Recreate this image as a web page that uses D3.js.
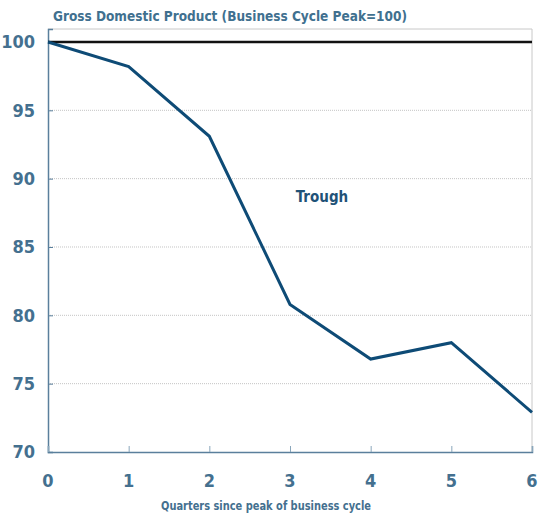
<!DOCTYPE html>
<html>
<head>
<meta charset="utf-8">
<script src="https://cdn.jsdelivr.net/npm/d3@7"></script>
<style>
  body { margin: 0; background: #fff; }
  text { font-family: "DejaVu Sans Condensed", "DejaVu Sans", sans-serif; font-weight: bold; }
</style>
</head>
<body>
<svg width="543" height="516"></svg>
<script>
const quarters = [0, 1, 2, 3, 4, 5, 6];
const gdp = [100, 98.2, 93.1, 80.8, 76.8, 78.0, 72.9];
const yTicks = [70, 75, 80, 85, 90, 95, 100];
const peakLevel = 100;

const labelColor = "#44708f";
const lineColor = "#0e4b76";

const svg = d3.select("svg");
const margin = { left: 48, right: 11, top: 29, bottom: 64 };
const width = 543, height = 516;

const x = d3.scaleLinear().domain([0, 6]).range([margin.left, width - margin.right]);
const y = d3.scaleLinear().domain([70, 100.95]).range([height - margin.bottom, margin.top]);

// frame (top + right)
svg.append("path")
    .attr("d", `M${x(0)},${y.range()[1]}H${x(6)}V${y(70)}`)
    .attr("fill", "none")
    .attr("stroke", "#c8c8c8")
    .attr("stroke-width", 1);

// gridlines
svg.append("g")
    .selectAll("line")
    .data(yTicks.filter(d => d > 70 && d < 100))
    .enter()
    .append("line")
    .attr("x1", x(0))
    .attr("x2", x(6))
    .attr("y1", d => y(d))
    .attr("y2", d => y(d))
    .attr("stroke", "#c4c4c4")
    .attr("stroke-width", 1)
    .attr("stroke-dasharray", "1,1");

// y axis
const yAxis = svg.append("g")
    .attr("transform", `translate(${x(0)},0)`)
    .call(d3.axisRight(y).tickValues(yTicks).tickSize(5).tickFormat(""));
yAxis.select(".domain").attr("stroke", "#5a7f9c").attr("stroke-width", 1.5);
yAxis.selectAll(".tick line").attr("stroke", "#5a7f9c");

svg.append("g")
    .selectAll("text")
    .data(yTicks)
    .enter()
    .append("text")
    .attr("x", 35)
    .attr("y", d => y(d))
    .attr("dy", "0.35em")
    .attr("text-anchor", "end")
    .attr("font-size", 18)
    .attr("fill", labelColor)
    .text(d => d);

// x axis
const xAxis = svg.append("g")
    .attr("transform", `translate(0,${y(70)})`)
    .call(d3.axisTop(x).tickValues(quarters).tickSize(6).tickFormat(""));
xAxis.select(".domain").attr("stroke", "#5a7f9c").attr("stroke-width", 1.5);
xAxis.selectAll(".tick line").attr("stroke", "#8aa6bb");

svg.append("g")
    .selectAll("text")
    .data(quarters)
    .enter()
    .append("text")
    .attr("x", d => x(d))
    .attr("y", 487)
    .attr("text-anchor", "middle")
    .attr("font-size", 18)
    .attr("fill", labelColor)
    .text(d => d);

// peak reference line
svg.append("line")
    .attr("x1", x(0))
    .attr("x2", x(6))
    .attr("y1", y(peakLevel))
    .attr("y2", y(peakLevel))
    .attr("stroke", "#111")
    .attr("stroke-width", 2.5);

// GDP line
svg.append("path")
    .datum(quarters.map((q, i) => [q, gdp[i]]))
    .attr("fill", "none")
    .attr("stroke", lineColor)
    .attr("stroke-width", 3)
    .attr("stroke-linejoin", "miter")
    .attr("d", d3.line().x(d => x(d[0])).y(d => y(d[1])));

// labels
svg.append("text")
    .attr("x", 53)
    .attr("y", 21)
    .attr("font-size", 14.5)
    .attr("textLength", 354)
    .attr("lengthAdjust", "spacingAndGlyphs")
    .attr("fill", "#40708f")
    .text("Gross Domestic Product (Business Cycle Peak=100)");

svg.append("text")
    .attr("x", 322)
    .attr("y", 202)
    .attr("text-anchor", "middle")
    .attr("font-size", 15)
    .attr("fill", "#1f5277")
    .text("Trough");

svg.append("text")
    .attr("x", 266)
    .attr("y", 510)
    .attr("text-anchor", "middle")
    .attr("font-size", 12)
    .attr("textLength", 210)
    .attr("lengthAdjust", "spacingAndGlyphs")
    .attr("fill", labelColor)
    .text("Quarters since peak of business cycle");
</script>
</body>
</html>
